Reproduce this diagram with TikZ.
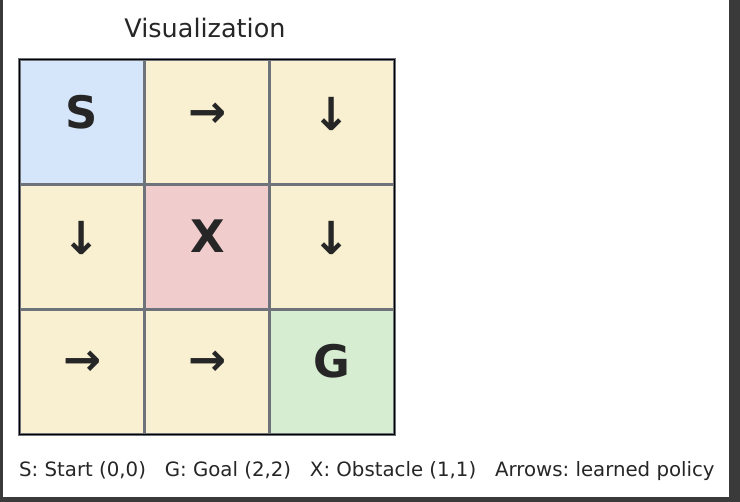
\documentclass[tikz,border=0pt]{standalone}
\usepackage{fontspec}
\setmainfont{DejaVu Sans}
\frenchspacing
\definecolor{framec}{HTML}{3A3A3A}
\definecolor{gridc}{HTML}{6E727B}
\definecolor{txtc}{HTML}{262626}
\definecolor{startc}{HTML}{D5E6FA}
\definecolor{freec}{HTML}{F8F0D0}
\definecolor{obstc}{HTML}{F0CCCC}
\definecolor{goalc}{HTML}{D6EDD2}
\begin{document}
\begin{tikzpicture}[x=1pt,y=-1pt,
  cell/.style={draw=gridc, line width=3.4pt, minimum size=125pt, inner sep=0pt, outer sep=0pt},
  glyph/.style={inner sep=0pt, text=txtc, font=\fontsize{44.8}{50}\selectfont\bfseries},
  arrowglyph/.style={inner sep=0pt, text=txtc, font=\fontsize{45.5}{50}\selectfont\bfseries}]
\useasboundingbox (0,0) rectangle (740,502);
\fill[white] (0,0) rectangle (740,502);
\fill[framec] (0,0) rectangle (3.3,502);
\fill[framec] (728.5,0) rectangle (740,502);
\fill[framec] (0,497.5) rectangle (740,502);
% title
\node[anchor=base, inner sep=0pt, text=txtc, font=\fontsize{25.5}{30}\selectfont] (title) at (205,37.5) {Visualization};
% cells
\node[cell, fill=startc] (c00) at (82,122) {};
\node[cell, fill=freec]  (c01) at (207,122) {};
\node[cell, fill=freec]  (c02) at (332,122) {};
\node[cell, fill=freec]  (c10) at (82,247) {};
\node[cell, fill=obstc]  (c11) at (207,247) {};
\node[cell, fill=freec]  (c12) at (332,247) {};
\node[cell, fill=freec]  (c20) at (82,372) {};
\node[cell, fill=freec]  (c21) at (207,372) {};
\node[cell, fill=goalc]  (c22) at (332,372) {};
\draw[black, line width=1.6pt] (19.5,59.5) rectangle (394.5,434.5);
% glyphs
\node[glyph] (gS) at (82,112.5) {S};
\node[glyph] (gX) at (207.5,236.5) {X};
\node[glyph] (gG) at (332,361.5) {G};
\node[arrowglyph] (a01) at (207.7,115) {→};
\node[arrowglyph] (a02) at (331.7,113.5) {↓};
\node[arrowglyph] (a10) at (82,237.5) {↓};
\node[arrowglyph] (a12) at (331.7,237.5) {↓};
\node[arrowglyph] (a20) at (82.7,363) {→};
\node[arrowglyph] (a21) at (207.7,363) {→};
% legend
\node[anchor=base west, inner sep=0pt, text=txtc, font=\fontsize{19.75}{24}\selectfont] (legend) at (19,476.5)
  {S: Start (0,0)\ \ \ G: Goal (2,2)\ \ \ X: Obstacle (1,1)\ \ \ Arrows: learned policy};
\end{tikzpicture}
\end{document}
